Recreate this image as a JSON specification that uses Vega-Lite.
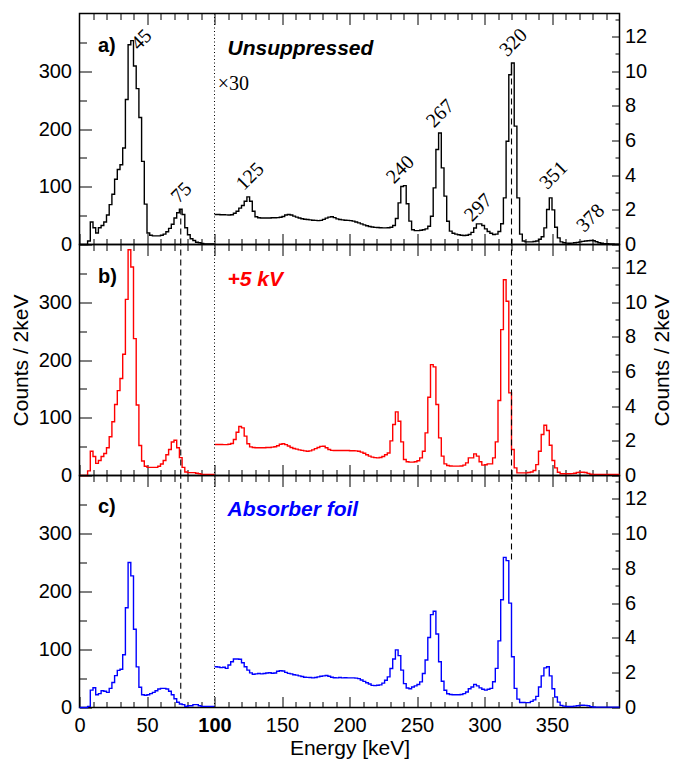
{
  "$schema": "https://vega.github.io/schema/vega-lite/v6.json",
  "padding": {"left": 8.5, "top": 11.5, "right": 4, "bottom": 0},
  "config": {
    "font": "Liberation Sans",
    "view": {"stroke": "black", "strokeWidth": 1.5},
    "concat": {"spacing": 0},
    "axis": {
      "domain": false, "grid": false, "ticks": true, "tickColor": "black", "tickWidth": 1,
      "labelColor": "black", "labelFont": "Liberation Sans", "labelFontSize": 20,
      "labelFlush": false, "labelOverlap": false, "labelBound": false,
      "titleFont": "Liberation Sans", "titleFontSize": 21, "titleFontWeight": "normal", "titleColor": "black"
    }
  },
  "datasets": {
    "aL": [{"e":0,"c":0},{"e":2,"c":0},{"e":4,"c":0},{"e":6,"c":6},{"e":8,"c":39},{"e":10,"c":29},{"e":12,"c":20},{"e":14,"c":29},{"e":16,"c":33},{"e":18,"c":39},{"e":20,"c":51},{"e":22,"c":69},{"e":24,"c":87},{"e":26,"c":113},{"e":28,"c":130},{"e":30,"c":138},{"e":32,"c":167},{"e":34,"c":251},{"e":36,"c":346},{"e":38,"c":353},{"e":40,"c":309},{"e":42,"c":270},{"e":44,"c":220},{"e":46,"c":144},{"e":48,"c":70},{"e":50,"c":20},{"e":52,"c":16},{"e":54,"c":15},{"e":56,"c":15},{"e":58,"c":15},{"e":60,"c":16},{"e":62,"c":18},{"e":64,"c":22},{"e":66,"c":28},{"e":68,"c":35},{"e":70,"c":46},{"e":72,"c":55},{"e":74,"c":61},{"e":76,"c":52},{"e":78,"c":29},{"e":80,"c":17},{"e":82,"c":10},{"e":84,"c":7},{"e":86,"c":4},{"e":88,"c":3},{"e":90,"c":2},{"e":92,"c":1},{"e":94,"c":1},{"e":96,"c":1},{"e":98,"c":1},{"e":100,"c":1}],
    "aR": [{"e":100,"c":1.73},{"e":102,"c":1.73},{"e":104,"c":1.72},{"e":106,"c":1.72},{"e":108,"c":1.71},{"e":110,"c":1.70},{"e":112,"c":1.72},{"e":114,"c":1.80},{"e":116,"c":1.92},{"e":118,"c":2.10},{"e":120,"c":2.25},{"e":122,"c":2.50},{"e":124,"c":2.75},{"e":126,"c":2.50},{"e":128,"c":1.92},{"e":130,"c":1.60},{"e":132,"c":1.54},{"e":134,"c":1.53},{"e":136,"c":1.53},{"e":138,"c":1.53},{"e":140,"c":1.53},{"e":142,"c":1.54},{"e":144,"c":1.54},{"e":146,"c":1.55},{"e":148,"c":1.57},{"e":150,"c":1.62},{"e":152,"c":1.70},{"e":154,"c":1.73},{"e":156,"c":1.70},{"e":158,"c":1.64},{"e":160,"c":1.58},{"e":162,"c":1.53},{"e":164,"c":1.49},{"e":166,"c":1.46},{"e":168,"c":1.44},{"e":170,"c":1.42},{"e":172,"c":1.40},{"e":174,"c":1.39},{"e":176,"c":1.38},{"e":178,"c":1.39},{"e":180,"c":1.45},{"e":182,"c":1.52},{"e":184,"c":1.58},{"e":186,"c":1.60},{"e":188,"c":1.55},{"e":190,"c":1.48},{"e":192,"c":1.44},{"e":194,"c":1.42},{"e":196,"c":1.40},{"e":198,"c":1.39},{"e":200,"c":1.38},{"e":202,"c":1.35},{"e":204,"c":1.30},{"e":206,"c":1.25},{"e":208,"c":1.19},{"e":210,"c":1.13},{"e":212,"c":1.08},{"e":214,"c":1.04},{"e":216,"c":1.01},{"e":218,"c":0.99},{"e":220,"c":0.98},{"e":222,"c":0.97},{"e":224,"c":0.96},{"e":226,"c":0.96},{"e":228,"c":0.97},{"e":230,"c":1.00},{"e":232,"c":1.10},{"e":234,"c":1.50},{"e":236,"c":2.40},{"e":238,"c":3.35},{"e":240,"c":3.40},{"e":242,"c":2.35},{"e":244,"c":1.35},{"e":246,"c":0.85},{"e":248,"c":0.80},{"e":250,"c":0.80},{"e":252,"c":0.82},{"e":254,"c":0.85},{"e":256,"c":0.90},{"e":258,"c":1.05},{"e":260,"c":1.63},{"e":262,"c":3.27},{"e":264,"c":5.48},{"e":266,"c":6.44},{"e":268,"c":4.42},{"e":270,"c":2.79},{"e":272,"c":1.34},{"e":274,"c":0.77},{"e":276,"c":0.65},{"e":278,"c":0.60},{"e":280,"c":0.56},{"e":282,"c":0.53},{"e":284,"c":0.52},{"e":286,"c":0.53},{"e":288,"c":0.58},{"e":290,"c":0.70},{"e":292,"c":0.95},{"e":294,"c":1.19},{"e":296,"c":1.19},{"e":298,"c":1.10},{"e":300,"c":0.90},{"e":302,"c":0.75},{"e":304,"c":0.65},{"e":306,"c":0.58},{"e":308,"c":0.60},{"e":310,"c":0.75},{"e":312,"c":1.20},{"e":314,"c":2.69},{"e":316,"c":5.96},{"e":318,"c":9.80},{"e":320,"c":10.48},{"e":322,"c":6.83},{"e":324,"c":2.69},{"e":326,"c":0.60},{"e":328,"c":0.20},{"e":330,"c":0.15},{"e":332,"c":0.15},{"e":334,"c":0.15},{"e":336,"c":0.17},{"e":338,"c":0.20},{"e":340,"c":0.30},{"e":342,"c":0.45},{"e":344,"c":0.96},{"e":346,"c":2.02},{"e":348,"c":2.69},{"e":350,"c":2.00},{"e":352,"c":1.00},{"e":354,"c":0.38},{"e":356,"c":0.15},{"e":358,"c":0.10},{"e":360,"c":0.08},{"e":362,"c":0.07},{"e":364,"c":0.08},{"e":366,"c":0.10},{"e":368,"c":0.12},{"e":370,"c":0.15},{"e":372,"c":0.18},{"e":374,"c":0.20},{"e":376,"c":0.22},{"e":378,"c":0.23},{"e":380,"c":0.22},{"e":382,"c":0.16},{"e":384,"c":0.10},{"e":386,"c":0.07},{"e":388,"c":0.05},{"e":390,"c":0.04},{"e":392,"c":0.03},{"e":394,"c":0.03},{"e":396,"c":0.02},{"e":398,"c":0.02},{"e":400,"c":0.02}],
    "bL": [{"e":0,"c":0},{"e":2,"c":0},{"e":4,"c":0},{"e":6,"c":8},{"e":8,"c":42},{"e":10,"c":33},{"e":12,"c":21},{"e":14,"c":26},{"e":16,"c":33},{"e":18,"c":38},{"e":20,"c":48},{"e":22,"c":67},{"e":24,"c":93},{"e":26,"c":123},{"e":28,"c":147},{"e":30,"c":168},{"e":32,"c":210},{"e":34,"c":305},{"e":36,"c":391},{"e":38,"c":361},{"e":40,"c":237},{"e":42,"c":122},{"e":44,"c":52},{"e":46,"c":25},{"e":48,"c":16},{"e":50,"c":14},{"e":52,"c":14},{"e":54,"c":14},{"e":56,"c":14},{"e":58,"c":16},{"e":60,"c":20},{"e":62,"c":26},{"e":64,"c":36},{"e":66,"c":45},{"e":68,"c":58},{"e":70,"c":61},{"e":72,"c":48},{"e":74,"c":31},{"e":76,"c":14},{"e":78,"c":6},{"e":80,"c":5},{"e":82,"c":5},{"e":84,"c":5},{"e":86,"c":4},{"e":88,"c":3},{"e":90,"c":2},{"e":92,"c":2},{"e":94,"c":2},{"e":96,"c":2},{"e":98,"c":2},{"e":100,"c":2}],
    "bR": [{"e":100,"c":1.79},{"e":102,"c":1.79},{"e":104,"c":1.79},{"e":106,"c":1.78},{"e":108,"c":1.78},{"e":110,"c":1.80},{"e":112,"c":1.85},{"e":114,"c":2.08},{"e":116,"c":2.50},{"e":118,"c":2.83},{"e":120,"c":2.75},{"e":122,"c":2.27},{"e":124,"c":1.83},{"e":126,"c":1.65},{"e":128,"c":1.62},{"e":130,"c":1.60},{"e":132,"c":1.60},{"e":134,"c":1.60},{"e":136,"c":1.60},{"e":138,"c":1.62},{"e":140,"c":1.62},{"e":142,"c":1.64},{"e":144,"c":1.66},{"e":146,"c":1.72},{"e":148,"c":1.80},{"e":150,"c":1.83},{"e":152,"c":1.78},{"e":154,"c":1.70},{"e":156,"c":1.62},{"e":158,"c":1.56},{"e":160,"c":1.52},{"e":162,"c":1.48},{"e":164,"c":1.45},{"e":166,"c":1.42},{"e":168,"c":1.40},{"e":170,"c":1.42},{"e":172,"c":1.48},{"e":174,"c":1.55},{"e":176,"c":1.62},{"e":178,"c":1.68},{"e":180,"c":1.69},{"e":182,"c":1.60},{"e":184,"c":1.50},{"e":186,"c":1.45},{"e":188,"c":1.44},{"e":190,"c":1.44},{"e":192,"c":1.44},{"e":194,"c":1.44},{"e":196,"c":1.44},{"e":198,"c":1.44},{"e":200,"c":1.43},{"e":202,"c":1.43},{"e":204,"c":1.42},{"e":206,"c":1.40},{"e":208,"c":1.35},{"e":210,"c":1.28},{"e":212,"c":1.20},{"e":214,"c":1.12},{"e":216,"c":1.06},{"e":218,"c":1.03},{"e":220,"c":1.02},{"e":222,"c":1.04},{"e":224,"c":1.10},{"e":226,"c":1.20},{"e":228,"c":1.30},{"e":230,"c":2.00},{"e":232,"c":2.94},{"e":234,"c":3.67},{"e":236,"c":3.13},{"e":238,"c":1.94},{"e":240,"c":0.92},{"e":242,"c":0.79},{"e":244,"c":0.77},{"e":246,"c":0.77},{"e":248,"c":0.79},{"e":250,"c":0.85},{"e":252,"c":1.02},{"e":254,"c":1.40},{"e":256,"c":2.46},{"e":258,"c":4.52},{"e":260,"c":6.40},{"e":262,"c":6.27},{"e":264,"c":4.10},{"e":266,"c":2.17},{"e":268,"c":1.12},{"e":270,"c":0.67},{"e":272,"c":0.58},{"e":274,"c":0.55},{"e":276,"c":0.54},{"e":278,"c":0.54},{"e":280,"c":0.54},{"e":282,"c":0.55},{"e":284,"c":0.60},{"e":286,"c":0.73},{"e":288,"c":1.02},{"e":290,"c":1.02},{"e":292,"c":1.25},{"e":294,"c":1.12},{"e":296,"c":0.79},{"e":298,"c":0.60},{"e":300,"c":0.62},{"e":302,"c":0.67},{"e":304,"c":0.67},{"e":306,"c":1.02},{"e":308,"c":1.94},{"e":310,"c":4.33},{"e":312,"c":8.42},{"e":314,"c":11.30},{"e":316,"c":10.06},{"e":318,"c":4.77},{"e":320,"c":1.50},{"e":322,"c":0.44},{"e":324,"c":0.15},{"e":326,"c":0.15},{"e":328,"c":0.15},{"e":330,"c":0.15},{"e":332,"c":0.17},{"e":334,"c":0.20},{"e":336,"c":0.29},{"e":338,"c":0.63},{"e":340,"c":1.40},{"e":342,"c":2.37},{"e":344,"c":2.90},{"e":346,"c":2.60},{"e":348,"c":1.75},{"e":350,"c":0.87},{"e":352,"c":0.44},{"e":354,"c":0.19},{"e":356,"c":0.10},{"e":358,"c":0.10},{"e":360,"c":0.10},{"e":362,"c":0.10},{"e":364,"c":0.11},{"e":366,"c":0.13},{"e":368,"c":0.17},{"e":370,"c":0.19},{"e":372,"c":0.19},{"e":374,"c":0.17},{"e":376,"c":0.12},{"e":378,"c":0.07},{"e":380,"c":0.06},{"e":382,"c":0.06},{"e":384,"c":0.06},{"e":386,"c":0.06},{"e":388,"c":0.06},{"e":390,"c":0.06},{"e":392,"c":0.06},{"e":394,"c":0.06},{"e":396,"c":0.06},{"e":398,"c":0.06},{"e":400,"c":0.06}],
    "cL": [{"e":0,"c":0},{"e":2,"c":0},{"e":4,"c":0},{"e":6,"c":2},{"e":8,"c":30},{"e":10,"c":34},{"e":12,"c":22},{"e":14,"c":24},{"e":16,"c":29},{"e":18,"c":28},{"e":20,"c":26},{"e":22,"c":33},{"e":24,"c":43},{"e":26,"c":55},{"e":28,"c":64},{"e":30,"c":66},{"e":32,"c":91},{"e":34,"c":172},{"e":36,"c":250},{"e":38,"c":227},{"e":40,"c":135},{"e":42,"c":70},{"e":44,"c":35},{"e":46,"c":22},{"e":48,"c":21},{"e":50,"c":22},{"e":52,"c":24},{"e":54,"c":26},{"e":56,"c":29},{"e":58,"c":32},{"e":60,"c":33},{"e":62,"c":33},{"e":64,"c":32},{"e":66,"c":28},{"e":68,"c":22},{"e":70,"c":15},{"e":72,"c":9},{"e":74,"c":6},{"e":76,"c":5},{"e":78,"c":2},{"e":80,"c":3},{"e":82,"c":3},{"e":84,"c":5},{"e":86,"c":5},{"e":88,"c":3},{"e":90,"c":2},{"e":92,"c":2},{"e":94,"c":2},{"e":96,"c":2},{"e":98,"c":2},{"e":100,"c":2}],
    "cR": [{"e":100,"c":2.34},{"e":102,"c":2.33},{"e":104,"c":2.29},{"e":106,"c":2.31},{"e":108,"c":2.25},{"e":110,"c":2.44},{"e":112,"c":2.63},{"e":114,"c":2.79},{"e":116,"c":2.79},{"e":118,"c":2.77},{"e":120,"c":2.57},{"e":122,"c":2.34},{"e":124,"c":2.15},{"e":126,"c":1.99},{"e":128,"c":1.91},{"e":130,"c":1.93},{"e":132,"c":1.95},{"e":134,"c":1.93},{"e":136,"c":1.95},{"e":138,"c":1.98},{"e":140,"c":2.00},{"e":142,"c":1.97},{"e":144,"c":1.98},{"e":146,"c":2.08},{"e":148,"c":2.11},{"e":150,"c":2.10},{"e":152,"c":2.02},{"e":154,"c":1.96},{"e":156,"c":1.93},{"e":158,"c":1.88},{"e":160,"c":1.86},{"e":162,"c":1.82},{"e":164,"c":1.78},{"e":166,"c":1.74},{"e":168,"c":1.73},{"e":170,"c":1.72},{"e":172,"c":1.70},{"e":174,"c":1.72},{"e":176,"c":1.76},{"e":178,"c":1.80},{"e":180,"c":1.82},{"e":182,"c":1.84},{"e":184,"c":1.80},{"e":186,"c":1.74},{"e":188,"c":1.71},{"e":190,"c":1.70},{"e":192,"c":1.72},{"e":194,"c":1.70},{"e":196,"c":1.71},{"e":198,"c":1.70},{"e":200,"c":1.70},{"e":202,"c":1.70},{"e":204,"c":1.69},{"e":206,"c":1.66},{"e":208,"c":1.58},{"e":210,"c":1.50},{"e":212,"c":1.42},{"e":214,"c":1.35},{"e":216,"c":1.27},{"e":218,"c":1.26},{"e":220,"c":1.28},{"e":222,"c":1.30},{"e":224,"c":1.40},{"e":226,"c":1.57},{"e":228,"c":1.76},{"e":230,"c":2.24},{"e":232,"c":2.79},{"e":234,"c":3.31},{"e":236,"c":2.98},{"e":238,"c":2.15},{"e":240,"c":1.37},{"e":242,"c":1.12},{"e":244,"c":1.08},{"e":246,"c":1.18},{"e":248,"c":1.24},{"e":250,"c":1.32},{"e":252,"c":1.47},{"e":254,"c":1.95},{"e":256,"c":2.73},{"e":258,"c":4.02},{"e":260,"c":5.34},{"e":262,"c":5.53},{"e":264,"c":4.22},{"e":266,"c":2.63},{"e":268,"c":1.51},{"e":270,"c":0.99},{"e":272,"c":0.79},{"e":274,"c":0.75},{"e":276,"c":0.73},{"e":278,"c":0.73},{"e":280,"c":0.73},{"e":282,"c":0.75},{"e":284,"c":0.80},{"e":286,"c":0.89},{"e":288,"c":1.08},{"e":290,"c":1.18},{"e":292,"c":1.33},{"e":294,"c":1.24},{"e":296,"c":1.13},{"e":298,"c":1.05},{"e":300,"c":1.00},{"e":302,"c":1.05},{"e":304,"c":1.10},{"e":306,"c":1.48},{"e":308,"c":2.25},{"e":310,"c":3.83},{"e":312,"c":6.19},{"e":314,"c":8.63},{"e":316,"c":8.44},{"e":318,"c":6.00},{"e":320,"c":2.92},{"e":322,"c":1.10},{"e":324,"c":0.48},{"e":326,"c":0.29},{"e":328,"c":0.29},{"e":330,"c":0.28},{"e":332,"c":0.28},{"e":334,"c":0.35},{"e":336,"c":0.44},{"e":338,"c":0.64},{"e":340,"c":1.18},{"e":342,"c":1.82},{"e":344,"c":2.28},{"e":346,"c":2.34},{"e":348,"c":1.82},{"e":350,"c":1.08},{"e":352,"c":0.60},{"e":354,"c":0.31},{"e":356,"c":0.12},{"e":358,"c":0.08},{"e":360,"c":0.06},{"e":362,"c":0.06},{"e":364,"c":0.06},{"e":366,"c":0.08},{"e":368,"c":0.10},{"e":370,"c":0.12},{"e":372,"c":0.13},{"e":374,"c":0.12},{"e":376,"c":0.10},{"e":378,"c":0.05},{"e":380,"c":0.03},{"e":382,"c":0.02},{"e":384,"c":0.02},{"e":386,"c":0.02},{"e":388,"c":0.02},{"e":390,"c":0.02},{"e":392,"c":0.02},{"e":394,"c":0.02},{"e":396,"c":0.02},{"e":398,"c":0.02},{"e":400,"c":0.02}],
    "guides": [
      {"p":"a","e":75,"lo":0,"hi":61},{"p":"a","e":320,"lo":0,"hi":314},
      {"p":"b","e":75,"lo":0,"hi":400},{"p":"b","e":320,"lo":0,"hi":400},
      {"p":"c","e":75,"lo":15,"hi":400},{"p":"c","e":320,"lo":255,"hi":400}
    ],
    "split": [{"e":100}],
    "notes": [
      {"p":"a","k":"tag","t":"a)","e":13.7,"v":343},
      {"p":"b","k":"tag","t":"b)","e":13.7,"v":344},
      {"p":"c","k":"tag","t":"c)","e":13.7,"v":346},
      {"p":"a","k":"title","t":"Unsuppressed","e":109.6,"v":338},
      {"p":"b","k":"title","t":"+5 kV","e":109.6,"v":338},
      {"p":"c","k":"title","t":"Absorber foil","e":109.6,"v":340},
      {"p":"a","k":"scale","t":"×30","e":102.4,"v":278},
      {"p":"a","k":"peak","t":"45","e":43.8,"v":335},
      {"p":"a","k":"peak","t":"75","e":73.5,"v":70},
      {"p":"a","k":"peak","t":"125","e":121.7,"v":92},
      {"p":"a","k":"peak","t":"240","e":233,"v":104},
      {"p":"a","k":"peak","t":"267","e":262.6,"v":201},
      {"p":"a","k":"peak","t":"297","e":290.8,"v":38},
      {"p":"a","k":"peak","t":"320","e":316.8,"v":324},
      {"p":"a","k":"peak","t":"351","e":346.5,"v":94},
      {"p":"a","k":"peak","t":"378","e":373.9,"v":20}
    ]
  },
  "spacing": 0,
  "bounds": "flush",
  "vconcat": [
    {
      "width": 540, "height": 231,
      "resolve": {"scale": {"y": "independent"}, "axis": {"x": "independent", "y": "independent"}},
      "layer": [
        {"data": {"name": "aL"}, "mark": {"type": "line", "interpolate": "step-after", "color": "black", "strokeWidth": 1.4},
         "encoding": {
           "x": {"field": "e", "type": "quantitative", "scale": {"domain": [0, 400], "nice": false}, "axis": {"orient": "bottom", "values": [0,50,100,150,200,250,300,350], "tickSize": -11, "labels": false, "title": null}},
           "y": {"field": "c", "type": "quantitative", "scale": {"domain": [0, 400], "nice": false}, "axis": {"orient": "left", "values": [0,100,200,300], "tickSize": -12, "labelPadding": 20, "title": null}}}},
        {"data": {"name": "aR"}, "mark": {"type": "line", "interpolate": "step-after", "color": "black", "strokeWidth": 1.4},
         "encoding": {
           "x": {"field": "e", "type": "quantitative", "axis": {"orient": "top", "values": [50,100,150,200,250,300,350], "tickSize": -11, "labels": false, "title": null}},
           "y": {"field": "c", "type": "quantitative", "scale": {"domain": [0, 13.3333], "nice": false}, "axis": {"orient": "right", "values": [0,2,4,6,8,10,12], "tickSize": -8, "labelPadding": 13, "title": null}}}},
        {"data": {"name": "aL"}, "mark": {"type": "line", "opacity": 0},
         "encoding": {
           "x": {"field": "e", "type": "quantitative", "axis": {"orient": "bottom", "values": [10,20,30,40,60,70,80,90,110,120,130,140,160,170,180,190,210,220,230,240,260,270,280,290,310,320,330,340,360,370,380,390], "tickSize": -6, "labels": false, "title": null}},
           "y": {"field": "c", "type": "quantitative", "scale": {"domain": [0, 400], "nice": false}, "axis": {"orient": "left", "values": [50,150,250,350], "tickSize": -7, "labels": false, "title": null}}}},
        {"data": {"name": "aR"}, "mark": {"type": "line", "opacity": 0},
         "encoding": {
           "x": {"field": "e", "type": "quantitative", "axis": {"orient": "top", "values": [10,20,30,40,60,70,80,90,110,120,130,140,160,170,180,190,210,220,230,240,260,270,280,290,310,320,330,340,360,370,380,390], "tickSize": -6, "labels": false, "title": null}},
           "y": {"field": "c", "type": "quantitative", "scale": {"domain": [0, 13.3333], "nice": false}, "axis": {"orient": "right", "values": [1,3,5,7,9,11,13], "tickSize": -4.5, "labels": false, "title": null}}}},
        {"data": {"name": "split"}, "mark": {"type": "rule", "color": "black", "strokeWidth": 1, "strokeDash": [1, 2.5]},
         "encoding": {"x": {"field": "e", "type": "quantitative", "axis": null}}},
        {"data": {"name": "guides"}, "transform": [{"filter": "datum.p == 'a'"}], "mark": {"type": "rule", "color": "black", "strokeWidth": 1.1, "strokeDash": [6, 4]},
         "encoding": {"x": {"field": "e", "type": "quantitative", "axis": null}, "y": {"field": "lo", "type": "quantitative", "scale": {"domain": [0, 400], "nice": false}, "axis": null}, "y2": {"field": "hi"}}},
        {"data": {"name": "notes"}, "transform": [{"filter": "datum.p == 'a' && datum.k == 'tag'"}], "mark": {"type": "text", "align": "left", "baseline": "middle", "font": "Liberation Sans", "fontSize": 20, "fontWeight": "bold", "color": "black"},
         "encoding": {"x": {"field": "e", "type": "quantitative", "axis": null}, "y": {"field": "v", "type": "quantitative", "scale": {"domain": [0, 400], "nice": false}, "axis": null}, "text": {"field": "t"}}},
        {"data": {"name": "notes"}, "transform": [{"filter": "datum.p == 'a' && datum.k == 'title'"}], "mark": {"type": "text", "align": "left", "baseline": "middle", "font": "Liberation Sans", "fontSize": 21, "fontWeight": "bold", "fontStyle": "italic", "color": "black"},
         "encoding": {"x": {"field": "e", "type": "quantitative", "axis": null}, "y": {"field": "v", "type": "quantitative", "scale": {"domain": [0, 400], "nice": false}, "axis": null}, "text": {"field": "t"}}},
        {"data": {"name": "notes"}, "transform": [{"filter": "datum.p == 'a' && datum.k == 'scale'"}], "mark": {"type": "text", "align": "left", "baseline": "middle", "font": "Liberation Serif", "fontSize": 20, "color": "black"},
         "encoding": {"x": {"field": "e", "type": "quantitative", "axis": null}, "y": {"field": "v", "type": "quantitative", "scale": {"domain": [0, 400], "nice": false}, "axis": null}, "text": {"field": "t"}}},
        {"data": {"name": "notes"}, "transform": [{"filter": "datum.p == 'a' && datum.k == 'peak'"}], "mark": {"type": "text", "align": "left", "baseline": "alphabetic", "angle": -45, "font": "Liberation Serif", "fontSize": 20, "color": "black"},
         "encoding": {"x": {"field": "e", "type": "quantitative", "axis": null}, "y": {"field": "v", "type": "quantitative", "scale": {"domain": [0, 400], "nice": false}, "axis": null}, "text": {"field": "t"}}}
      ]
    },
    {
      "width": 540, "height": 231,
      "resolve": {"scale": {"y": "independent"}, "axis": {"x": "independent", "y": "independent"}},
      "layer": [
        {"data": {"name": "bL"}, "mark": {"type": "line", "interpolate": "step-after", "color": "#ff0000", "strokeWidth": 1.4},
         "encoding": {
           "x": {"field": "e", "type": "quantitative", "scale": {"domain": [0, 400], "nice": false}, "axis": {"orient": "bottom", "values": [0,50,100,150,200,250,300,350], "tickSize": -11, "labels": false, "title": null}},
           "y": {"field": "c", "type": "quantitative", "scale": {"domain": [0, 400], "nice": false}, "axis": {"orient": "left", "values": [0,100,200,300], "tickSize": -12, "labelPadding": 20, "title": "Counts / 2keV", "titlePadding": 7}}}},
        {"data": {"name": "bR"}, "mark": {"type": "line", "interpolate": "step-after", "color": "#ff0000", "strokeWidth": 1.4},
         "encoding": {
           "x": {"field": "e", "type": "quantitative", "axis": {"orient": "top", "values": [50,100,150,200,250,300,350], "tickSize": -11, "labels": false, "title": null}},
           "y": {"field": "c", "type": "quantitative", "scale": {"domain": [0, 13.3333], "nice": false}, "axis": {"orient": "right", "values": [0,2,4,6,8,10,12], "tickSize": -8, "labelPadding": 13, "title": "Counts / 2keV", "titleAngle": -90, "titleBaseline": "top", "titlePadding": 5}}}},
        {"data": {"name": "bL"}, "mark": {"type": "line", "opacity": 0},
         "encoding": {
           "x": {"field": "e", "type": "quantitative", "axis": {"orient": "bottom", "values": [10,20,30,40,60,70,80,90,110,120,130,140,160,170,180,190,210,220,230,240,260,270,280,290,310,320,330,340,360,370,380,390], "tickSize": -6, "labels": false, "title": null}},
           "y": {"field": "c", "type": "quantitative", "scale": {"domain": [0, 400], "nice": false}, "axis": {"orient": "left", "values": [50,150,250,350], "tickSize": -7, "labels": false, "title": null}}}},
        {"data": {"name": "bR"}, "mark": {"type": "line", "opacity": 0},
         "encoding": {
           "x": {"field": "e", "type": "quantitative", "axis": {"orient": "top", "values": [10,20,30,40,60,70,80,90,110,120,130,140,160,170,180,190,210,220,230,240,260,270,280,290,310,320,330,340,360,370,380,390], "tickSize": -6, "labels": false, "title": null}},
           "y": {"field": "c", "type": "quantitative", "scale": {"domain": [0, 13.3333], "nice": false}, "axis": {"orient": "right", "values": [1,3,5,7,9,11,13], "tickSize": -4.5, "labels": false, "title": null}}}},
        {"data": {"name": "split"}, "mark": {"type": "rule", "color": "black", "strokeWidth": 1, "strokeDash": [1, 2.5]},
         "encoding": {"x": {"field": "e", "type": "quantitative", "axis": null}}},
        {"data": {"name": "guides"}, "transform": [{"filter": "datum.p == 'b'"}], "mark": {"type": "rule", "color": "black", "strokeWidth": 1.1, "strokeDash": [6, 4]},
         "encoding": {"x": {"field": "e", "type": "quantitative", "axis": null}, "y": {"field": "lo", "type": "quantitative", "scale": {"domain": [0, 400], "nice": false}, "axis": null}, "y2": {"field": "hi"}}},
        {"data": {"name": "notes"}, "transform": [{"filter": "datum.p == 'b' && datum.k == 'tag'"}], "mark": {"type": "text", "align": "left", "baseline": "middle", "font": "Liberation Sans", "fontSize": 20, "fontWeight": "bold", "color": "black"},
         "encoding": {"x": {"field": "e", "type": "quantitative", "axis": null}, "y": {"field": "v", "type": "quantitative", "scale": {"domain": [0, 400], "nice": false}, "axis": null}, "text": {"field": "t"}}},
        {"data": {"name": "notes"}, "transform": [{"filter": "datum.p == 'b' && datum.k == 'title'"}], "mark": {"type": "text", "align": "left", "baseline": "middle", "font": "Liberation Sans", "fontSize": 21, "fontWeight": "bold", "fontStyle": "italic", "color": "#ff0000"},
         "encoding": {"x": {"field": "e", "type": "quantitative", "axis": null}, "y": {"field": "v", "type": "quantitative", "scale": {"domain": [0, 400], "nice": false}, "axis": null}, "text": {"field": "t"}}}
      ]
    },
    {
      "width": 540, "height": 232,
      "resolve": {"scale": {"y": "independent"}, "axis": {"x": "independent", "y": "independent"}},
      "layer": [
        {"data": {"name": "cL"}, "mark": {"type": "line", "interpolate": "step-after", "color": "#0000ff", "strokeWidth": 1.4},
         "encoding": {
           "x": {"field": "e", "type": "quantitative", "scale": {"domain": [0, 400], "nice": false}, "axis": {"orient": "bottom", "values": [0,50,100,150,200,250,300,350], "tickSize": -11, "labelPadding": 19, "title": "Energy [keV]", "titlePadding": 2, "labelFontWeight": {"condition": {"test": "datum.value == 100", "value": "bold"}, "value": "normal"}}},
           "y": {"field": "c", "type": "quantitative", "scale": {"domain": [0, 400], "nice": false}, "axis": {"orient": "left", "values": [0,100,200,300], "tickSize": -12, "labelPadding": 20, "title": null}}}},
        {"data": {"name": "cR"}, "mark": {"type": "line", "interpolate": "step-after", "color": "#0000ff", "strokeWidth": 1.4},
         "encoding": {
           "x": {"field": "e", "type": "quantitative", "axis": {"orient": "top", "values": [50,100,150,200,250,300,350], "tickSize": -11, "labels": false, "title": null}},
           "y": {"field": "c", "type": "quantitative", "scale": {"domain": [0, 13.3333], "nice": false}, "axis": {"orient": "right", "values": [0,2,4,6,8,10,12], "tickSize": -8, "labelPadding": 13, "title": null}}}},
        {"data": {"name": "cL"}, "mark": {"type": "line", "opacity": 0},
         "encoding": {
           "x": {"field": "e", "type": "quantitative", "axis": {"orient": "bottom", "values": [10,20,30,40,60,70,80,90,110,120,130,140,160,170,180,190,210,220,230,240,260,270,280,290,310,320,330,340,360,370,380,390], "tickSize": -6, "labels": false, "title": null}},
           "y": {"field": "c", "type": "quantitative", "scale": {"domain": [0, 400], "nice": false}, "axis": {"orient": "left", "values": [50,150,250,350], "tickSize": -7, "labels": false, "title": null}}}},
        {"data": {"name": "cR"}, "mark": {"type": "line", "opacity": 0},
         "encoding": {
           "x": {"field": "e", "type": "quantitative", "axis": {"orient": "top", "values": [10,20,30,40,60,70,80,90,110,120,130,140,160,170,180,190,210,220,230,240,260,270,280,290,310,320,330,340,360,370,380,390], "tickSize": -6, "labels": false, "title": null}},
           "y": {"field": "c", "type": "quantitative", "scale": {"domain": [0, 13.3333], "nice": false}, "axis": {"orient": "right", "values": [1,3,5,7,9,11,13], "tickSize": -4.5, "labels": false, "title": null}}}},
        {"data": {"name": "split"}, "mark": {"type": "rule", "color": "black", "strokeWidth": 1, "strokeDash": [1, 2.5]},
         "encoding": {"x": {"field": "e", "type": "quantitative", "axis": null}}},
        {"data": {"name": "guides"}, "transform": [{"filter": "datum.p == 'c'"}], "mark": {"type": "rule", "color": "black", "strokeWidth": 1.1, "strokeDash": [6, 4]},
         "encoding": {"x": {"field": "e", "type": "quantitative", "axis": null}, "y": {"field": "lo", "type": "quantitative", "scale": {"domain": [0, 400], "nice": false}, "axis": null}, "y2": {"field": "hi"}}},
        {"data": {"name": "notes"}, "transform": [{"filter": "datum.p == 'c' && datum.k == 'tag'"}], "mark": {"type": "text", "align": "left", "baseline": "middle", "font": "Liberation Sans", "fontSize": 20, "fontWeight": "bold", "color": "black"},
         "encoding": {"x": {"field": "e", "type": "quantitative", "axis": null}, "y": {"field": "v", "type": "quantitative", "scale": {"domain": [0, 400], "nice": false}, "axis": null}, "text": {"field": "t"}}},
        {"data": {"name": "notes"}, "transform": [{"filter": "datum.p == 'c' && datum.k == 'title'"}], "mark": {"type": "text", "align": "left", "baseline": "middle", "font": "Liberation Sans", "fontSize": 21, "fontWeight": "bold", "fontStyle": "italic", "color": "#0000ff"},
         "encoding": {"x": {"field": "e", "type": "quantitative", "axis": null}, "y": {"field": "v", "type": "quantitative", "scale": {"domain": [0, 400], "nice": false}, "axis": null}, "text": {"field": "t"}}}
      ]
    }
  ]
}
